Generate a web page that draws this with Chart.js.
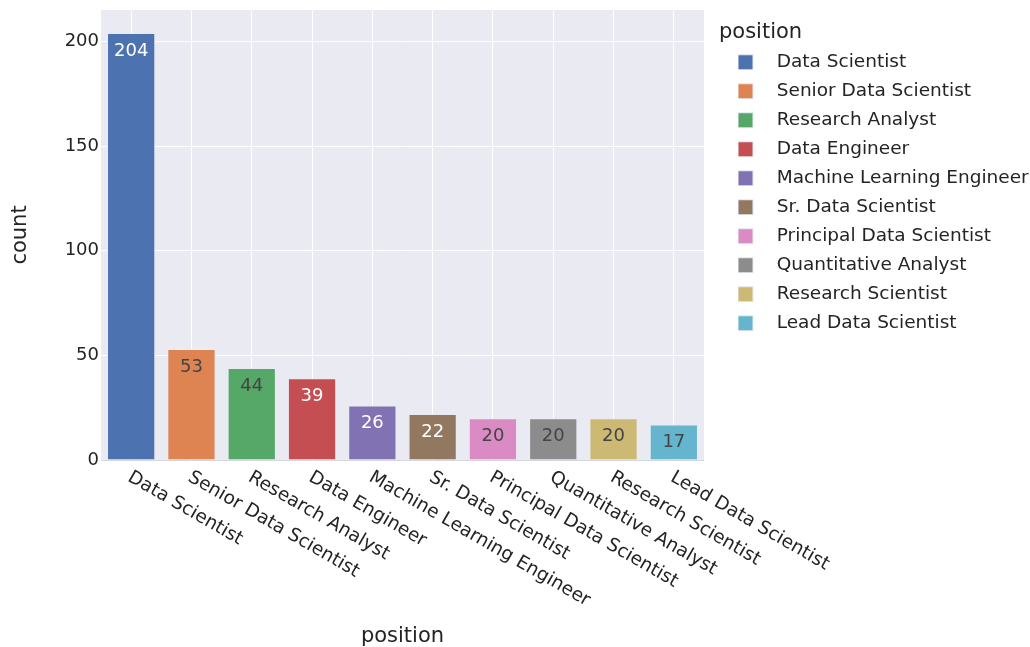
<!DOCTYPE html>
<html>
<head>
<meta charset="utf-8">
<title>position count</title>
<script src="https://cdn.jsdelivr.net/npm/chart.js@4.4.1/dist/chart.umd.min.js"></script>
<style>
    html, body { margin: 0; padding: 0; background: #fff; }
    #grafico { display: block; }
</style>
</head>
<body>
<canvas id="grafico" width="1030" height="647"></canvas>
<script>
// dados
const positions = [
    'Data Scientist', 'Senior Data Scientist', 'Research Analyst', 'Data Engineer',
    'Machine Learning Engineer', 'Sr. Data Scientist', 'Principal Data Scientist',
    'Quantitative Analyst', 'Research Scientist', 'Lead Data Scientist'
];
const counts = [204, 53, 44, 39, 26, 22, 20, 20, 20, 17];
const colors = ['#4C72B0', '#DD8452', '#55A868', '#C44E52', '#8172B3', '#937860', '#DA8BC3', '#8C8C8C', '#CCB974', '#64B5CD'];
const yTicks = [0, 50, 100, 150, 200];

const FONT = "'DejaVu Sans', Verdana, sans-serif";
const TEXT = '#242424';
const PLOT_BG = '#EAEAF2';

// cor do texto dentro da barra (claro/escuro conforme o fundo)
const textColorFor = (hex) => {
    const r = parseInt(hex.slice(1, 3), 16), g = parseInt(hex.slice(3, 5), 16), b = parseInt(hex.slice(5, 7), 16);
    return (r * 299 + g * 587 + b * 114) / 1000 > 128 ? '#444' : '#fff';
};

// quadradinho da legenda
const makeSwatch = (color) => {
    const c = document.createElement('canvas');
    c.width = 22; c.height = 16;
    const ctx = c.getContext('2d');
    ctx.fillStyle = color;
    ctx.fillRect(0, 0, 16, 16);
    ctx.strokeStyle = 'rgba(234,234,242,1)';
    ctx.lineWidth = 1;
    ctx.strokeRect(0.5, 0.5, 15, 15);
    return c;
};
const swatches = colors.map(makeSwatch);

const plotBackground = {
    id: 'plotBackground',
    beforeDraw(chart) {
        const { ctx, chartArea: a } = chart;
        ctx.save();
        ctx.fillStyle = PLOT_BG;
        ctx.fillRect(a.left, a.top, a.right - a.left, a.bottom - a.top);
        ctx.restore();
    }
};

const barValues = {
    id: 'barValues',
    afterDatasetsDraw(chart) {
        const { ctx } = chart;
        ctx.save();
        ctx.font = `18px ${FONT}`;
        ctx.textAlign = 'center';
        ctx.textBaseline = 'middle';
        chart.data.datasets.forEach((ds, i) => {
            const el = chart.getDatasetMeta(i).data[i];
            if (!el) return;
            ctx.fillStyle = textColorFor(colors[i]);
            ctx.fillText(String(counts[i]), el.x, el.y + 18);
        });
        ctx.restore();
    }
};

// rótulos do eixo x inclinados para baixo/direita (estilo plotly)
const slantedLabels = {
    id: 'slantedLabels',
    afterDraw(chart) {
        const { ctx, chartArea } = chart;
        const xs = chart.scales.x;
        ctx.save();
        ctx.font = `18.5px ${FONT}`;
        ctx.fillStyle = TEXT;
        ctx.textAlign = 'left';
        ctx.textBaseline = 'middle';
        positions.forEach((p, i) => {
            const x = xs.getPixelForTick(i);
            ctx.save();
            ctx.translate(x - 2, chartArea.bottom + 16);
            ctx.rotate(Math.PI / 6);
            ctx.fillText(p, 0, 0);
            ctx.restore();
        });
        ctx.restore();
    }
};

new Chart(document.getElementById('grafico').getContext('2d'), {
    type: 'bar',
    data: {
        labels: positions,
        datasets: positions.map((p, i) => ({
            label: p,
            data: counts.map((c, j) => (j === i ? c : null)),
            backgroundColor: colors[i],
            borderColor: 'rgba(234,234,242,1)',
            borderWidth: 1,
            barPercentage: 0.8,
            categoryPercentage: 1
        }))
    },
    options: {
        responsive: false,
        animation: false,
        devicePixelRatio: 1,
        layout: { padding: { top: 10, left: 0, right: 0, bottom: 0 } },
        plugins: {
            tooltip: { enabled: false },
            legend: {
                position: 'right',
                align: 'start',
                maxWidth: 311,
                title: {
                    display: true,
                    position: 'start',
                    text: 'position',
                    color: TEXT,
                    font: { family: FONT, size: 21, lineHeight: 0.95 },
                    padding: { top: 12.5, bottom: 0 }
                },
                labels: {
                    usePointStyle: true,
                    pointStyleWidth: 38,
                    padding: 10.5,
                    color: TEXT,
                    font: { family: FONT, size: 18.5 },
                    generateLabels: (chart) => chart.data.datasets.map((ds, i) => ({
                        text: ds.label,
                        pointStyle: swatches[i],
                        fillStyle: colors[i],
                        strokeStyle: 'transparent',
                        lineWidth: 0,
                        fontColor: TEXT,
                        hidden: !chart.isDatasetVisible(i),
                        datasetIndex: i
                    }))
                }
            }
        },
        scales: {
            x: {
                stacked: true,
                border: { display: false },
                grid: { offset: false, color: '#ffffff', lineWidth: 1, drawTicks: false },
                ticks: { display: false },
                title: {
                    display: true,
                    text: 'position',
                    color: TEXT,
                    font: { family: FONT, size: 21, lineHeight: 1 },
                    padding: { top: 0, bottom: 0 }
                },
                afterFit: (s) => { s.height = 187; s.paddingLeft = 0; s.paddingRight = 0; }
            },
            y: {
                stacked: true,
                min: 0,
                max: 215,
                border: { display: false },
                grid: {
                    drawTicks: false,
                    lineWidth: 1,
                    color: (c) => (c.tick && c.tick.value === 0 ? '#D6D6DE' : '#ffffff')
                },
                ticks: {
                    padding: 2,
                    color: TEXT,
                    font: { family: FONT, size: 18 },
                    includeBounds: false
                },
                afterBuildTicks: (s) => { s.ticks = yTicks.map(v => ({ value: v })); },
                title: {
                    display: true,
                    text: 'count',
                    color: TEXT,
                    font: { family: FONT, size: 21, lineHeight: 1 },
                    padding: { top: 10, bottom: 0 }
                },
                afterFit: (s) => { s.width = 101; s.paddingTop = 0; s.paddingBottom = 0; }
            },
            // eixo vazio só para afastar a legenda da área do gráfico
            gap: {
                type: 'linear',
                position: 'right',
                display: true,
                border: { display: false },
                grid: { display: false, drawTicks: false },
                ticks: { display: false },
                afterFit: (s) => { s.width = 15; s.paddingTop = 0; s.paddingBottom = 0; }
            }
        }
    },
    plugins: [plotBackground, barValues, slantedLabels]
});
</script>
</body>
</html>
